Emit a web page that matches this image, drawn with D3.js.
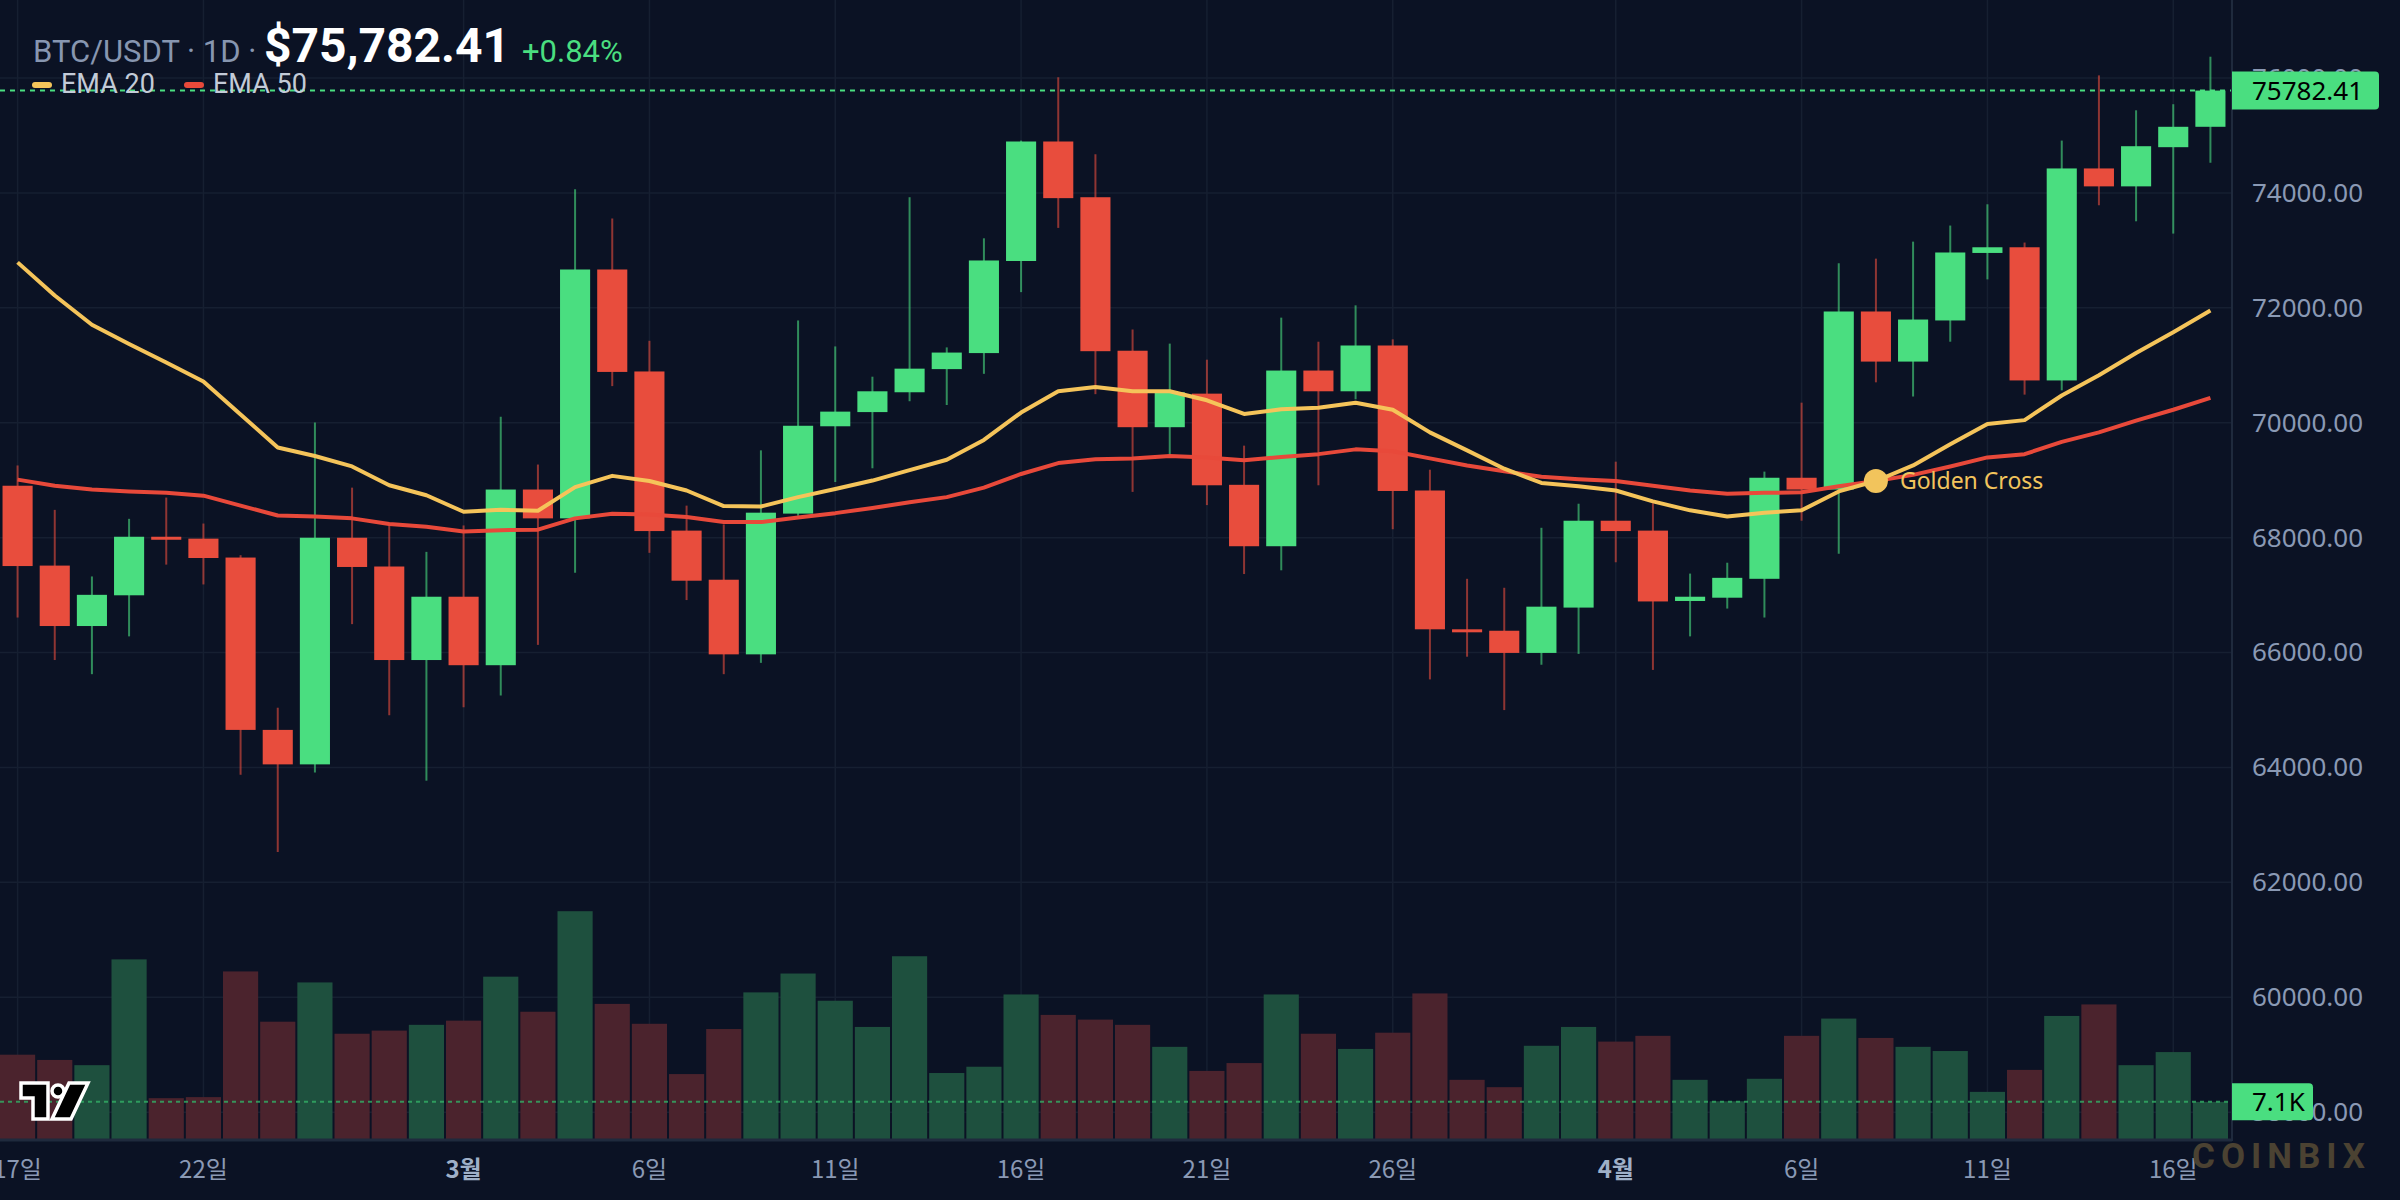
<!DOCTYPE html>
<html>
<head>
<meta charset="utf-8">
<script src="https://cdn.jsdelivr.net/npm/d3@7"></script>
<style>
  html, body { margin: 0; padding: 0; background: #0b1224; }
  svg { display: block; }
</style>
</head>
<body>
<svg id="chart"></svg>
<script>
const startDay = "2025-02-17";

const opens = [68904, 67514, 66462, 66997, 68016, 67983, 67654, 64654, 64054, 67999,
  67498, 65870, 66972, 65780, 68838, 68336, 72668, 70893, 68123, 67268,
  65969, 68419, 69939, 70186, 70531, 70934, 71213, 72816, 74896, 73926,
  71254, 69923, 70507, 68920, 67851, 70909, 70548, 71345, 68821, 66405,
  66380, 65994, 66783, 68295, 68123, 66898, 66955, 67284, 69043, 68838,
  71937, 71065, 71781, 72956, 73055, 70737, 74427, 74115, 74797, 75152];
const highs = [69257, 68484, 67325, 68328, 68698, 68246, 67695, 65040, 70005, 68871,
  68230, 67753, 68213, 70104, 69273, 74066, 73556, 71427, 68558, 68230,
  69520, 71781, 71329, 70802, 73926, 71312, 73211, 74912, 76014, 74674,
  71624, 71378, 71098, 69602, 71830, 71411, 72044, 71452, 69183, 67284,
  67128, 68172, 68591, 69323, 68600, 67375, 67564, 69150, 70350, 72775,
  72857, 73153, 73433, 73803, 73137, 74912, 76047, 75439, 75545, 76372];
const lows = [66610, 65870, 65624, 66282, 67531, 67186, 63873, 62529, 63914, 66495,
  64909, 63770, 65048, 65254, 66134, 67391, 70638, 67736, 66914, 65624,
  65821, 68380, 68969, 69208, 70375, 70309, 70852, 72274, 73392, 70498,
  68797, 69421, 68567, 67367, 67432, 68912, 70408, 68147, 65533, 65928,
  64999, 65788, 65977, 67572, 65698, 66282, 66766, 66610, 68295, 67720,
  70704, 70457, 71411, 72496, 70490, 70564, 73786, 73507, 73293, 74526];
const closes = [67506, 66462, 67005, 68016, 67975, 67646, 64654, 64054, 67999, 67490,
  65870, 66972, 65780, 68838, 68336, 72668, 70885, 68115, 67251, 65969,
  68435, 69948, 70194, 70548, 70942, 71222, 72825, 74896, 73910, 71246,
  69923, 70531, 68912, 67851, 70909, 70548, 71345, 68813, 66405, 66380,
  65994, 66799, 68295, 68115, 66890, 66972, 67301, 69043, 68838, 71937,
  71065, 71797, 72964, 73055, 70737, 74427, 74115, 74814, 75152, 75782.41];
// volume in thousands
const volumes = [16.1, 15.1, 14.1, 34.3, 7.8, 8.0, 32.0, 22.4, 29.9, 20.1,
  20.7, 21.8, 22.6, 31.0, 24.3, 43.5, 25.8, 22.0, 12.4, 21.0,
  28.0, 31.6, 26.4, 21.4, 34.9, 12.6, 13.8, 27.6, 23.7, 22.8,
  21.8, 17.6, 13.0, 14.5, 27.6, 20.1, 17.2, 20.3, 27.8, 11.3,
  9.9, 17.8, 21.4, 18.6, 19.7, 11.3, 7.2, 11.5, 19.7, 23.0,
  19.3, 17.6, 16.8, 9.0, 13.2, 23.5, 25.7, 14.1, 16.6, 7.1];
const ema20 = [72792, 72216, 71707, 71370, 71049, 70720, 70145, 69569, 69421, 69240,
  68912, 68739, 68452, 68484, 68468, 68879, 69076, 68986, 68821, 68550,
  68542, 68706, 68846, 68994, 69175, 69356, 69701, 70178, 70548, 70622,
  70548, 70548, 70391, 70153, 70235, 70260, 70350, 70227, 69833, 69520,
  69200, 68953, 68895, 68821, 68632, 68476, 68369, 68435, 68476, 68805,
  68986, 69257, 69627, 69980, 70046, 70474, 70827, 71213, 71575, 71953];
const ema50 = [69010, 68904, 68838, 68805, 68780, 68731, 68558, 68386, 68369, 68336,
  68238, 68189, 68106, 68131, 68139, 68336, 68418, 68402, 68361, 68271,
  68271, 68353, 68427, 68517, 68616, 68706, 68871, 69109, 69298, 69364,
  69380, 69421, 69397, 69347, 69405, 69454, 69537, 69504, 69380, 69257,
  69155, 69060, 69019, 68986, 68904, 68821, 68764, 68780, 68789, 68895,
  68986, 69093, 69240, 69397, 69454, 69668, 69833, 70038, 70227, 70433];

const tickDays = ["2025-02-17", "2025-02-22", "2025-03-01", "2025-03-06", "2025-03-11", "2025-03-16",
  "2025-03-21", "2025-03-26", "2025-04-01", "2025-04-06", "2025-04-11", "2025-04-16"];
const priceTicks = [58000, 60000, 62000, 64000, 66000, 68000, 70000, 72000, 74000, 76000];
const crossDay = "2025-04-08";

const W = 2400, H = 1200;
const plotRight = 2232, plotBottom = 1139;
const UP = "#4ade80", DOWN = "#e84d3d";
const VOL_UP = "#1e503e", VOL_DOWN = "#4b232d";
const GRID = "#161f31", AXIS_TEXT = "#8a99b4";

const t0 = new Date(startDay);
const days = d3.utcDay.range(t0, d3.utcDay.offset(t0, closes.length)).map(d => +d);
const data = days.map((d, i) => ({
  date: d, open: opens[i], high: highs[i], low: lows[i], close: closes[i],
  volume: volumes[i], e20: ema20[i], e50: ema50[i]
}));

const svg = d3.select('#chart').attr('width', W).attr('height', H);
svg.append('rect').attr('width', W).attr('height', H).attr('fill', '#0b1224');

const x = d3.scaleBand().domain(days).range([-1, 2229]).padding(0);
const step = x.step();
const cx = d => x(d) + step / 2;

const y = d3.scaleLinear().domain([57533, 77359]).range([plotBottom, 0]);
const yVol = d3.scaleLinear()
  .domain([0, d3.max(volumes)])
  .range([plotBottom, plotBottom - plotBottom * 0.2]);

// grid
const grid = svg.append('g');
grid.selectAll('line.h')
  .data(priceTicks)
  .enter().append('line')
  .attr('x1', 0).attr('x2', plotRight)
  .attr('y1', d => y(d)).attr('y2', d => y(d))
  .attr('stroke', GRID).attr('stroke-width', 1.5);
grid.selectAll('line.v')
  .data(tickDays.map(s => +new Date(s)))
  .enter().append('line')
  .attr('x1', d => cx(d)).attr('x2', d => cx(d))
  .attr('y1', 0).attr('y2', plotBottom)
  .attr('stroke', GRID).attr('stroke-width', 1.5);

// volume
svg.append('g').selectAll('rect')
  .data(data)
  .enter().append('rect')
  .attr('x', d => cx(d.date) - (step - 2) / 2)
  .attr('width', step - 2)
  .attr('y', d => yVol(d.volume))
  .attr('height', d => plotBottom - yVol(d.volume))
  .attr('fill', d => d.close >= d.open ? VOL_UP : VOL_DOWN);

const last = data[data.length - 1];
const prev = data[data.length - 2];

svg.append('line')
  .attr('x1', 0).attr('x2', plotRight)
  .attr('y1', yVol(last.volume)).attr('y2', yVol(last.volume))
  .attr('stroke', '#33b066').attr('stroke-width', 2)
  .attr('stroke-dasharray', '4,4').attr('opacity', 0.8);

// candles
const candles = svg.append('g').selectAll('g')
  .data(data)
  .enter().append('g');

candles.append('line')
  .attr('x1', d => cx(d.date)).attr('x2', d => cx(d.date))
  .attr('y1', d => y(d.high)).attr('y2', d => y(d.low))
  .attr('stroke', d => d.close >= d.open ? UP : DOWN)
  .attr('stroke-opacity', 0.6)
  .attr('stroke-width', 2);

const bodyW = step * 0.81;
candles.append('rect')
  .attr('x', d => cx(d.date) - bodyW / 2)
  .attr('width', bodyW)
  .attr('y', d => y(Math.max(d.open, d.close)))
  .attr('height', d => Math.max(3, Math.abs(y(d.open) - y(d.close))))
  .attr('fill', d => d.close >= d.open ? UP : DOWN);

// EMAs
const line = key => d3.line().x(d => cx(d.date)).y(d => y(d[key]));
svg.append('path').datum(data)
  .attr('d', line('e50'))
  .attr('fill', 'none').attr('stroke', '#e8493a').attr('stroke-width', 4)
  .attr('stroke-linejoin', 'round');
svg.append('path').datum(data)
  .attr('d', line('e20'))
  .attr('fill', 'none').attr('stroke', '#f5c45a').attr('stroke-width', 4)
  .attr('stroke-linejoin', 'round');

// price line
svg.append('line')
  .attr('x1', 0).attr('x2', plotRight)
  .attr('y1', y(last.close)).attr('y2', y(last.close))
  .attr('stroke', UP).attr('stroke-width', 2)
  .attr('stroke-dasharray', '5,5');

// golden cross
const cross = data.find(d => d.date === +new Date(crossDay));
svg.append('circle')
  .attr('cx', cx(cross.date)).attr('cy', y(cross.e50))
  .attr('r', 12).attr('fill', '#f2c45c');
svg.append('text')
  .attr('x', cx(cross.date) + 24).attr('y', y(cross.e50) + 8)
  .attr('fill', '#f2c45c')
  .style('font-family', '"Noto Sans", sans-serif')
  .style('font-size', '23px')
  .text('Golden Cross');

// frame
svg.append('line')
  .attr('x1', plotRight).attr('x2', plotRight).attr('y1', 0).attr('y2', plotBottom + 2)
  .attr('stroke', '#1f2a3d').attr('stroke-width', 2);
svg.append('line')
  .attr('x1', 0).attr('x2', plotRight).attr('y1', plotBottom + 1).attr('y2', plotBottom + 1)
  .attr('stroke', '#1f2a3d').attr('stroke-width', 3);

// price axis
svg.append('g')
  .attr('transform', `translate(${plotRight},0)`)
  .call(d3.axisRight(y).tickValues(priceTicks).tickFormat(d3.format('.2f')).tickSize(0).tickPadding(20))
  .call(g => g.select('.domain').remove())
  .selectAll('text')
  .attr('fill', AXIS_TEXT)
  .style('font-family', '"Noto Sans", sans-serif')
  .style('font-size', '26px');

// date axis
const fmtDay = d => {
  const dt = new Date(d);
  return dt.getUTCDate() === 1 ? (dt.getUTCMonth() + 1) + '월' : dt.getUTCDate() + '일';
};
svg.append('g')
  .attr('transform', `translate(0,${plotBottom})`)
  .call(d3.axisBottom(x).tickValues(tickDays.map(s => +new Date(s))).tickFormat(fmtDay).tickSize(0))
  .call(g => g.select('.domain').remove())
  .selectAll('text')
  .attr('y', 39).attr('dy', null)
  .attr('fill', d => new Date(d).getUTCDate() === 1 ? '#9fb0c8' : AXIS_TEXT)
  .style('font-weight', d => new Date(d).getUTCDate() === 1 ? 700 : 400)
  .style('font-family', '"Noto Sans CJK KR", sans-serif')
  .style('font-size', '24px');

// last value labels
const priceBox = svg.append('g').attr('transform', `translate(${plotRight},${y(last.close) - 19})`);
priceBox.append('path')
  .attr('d', 'M0,0 H143 Q147,0 147,4 V34 Q147,38 143,38 H0 Z')
  .attr('fill', UP);
priceBox.append('text')
  .attr('x', 20).attr('y', 28)
  .attr('fill', '#000')
  .style('font-family', '"Noto Sans", sans-serif')
  .style('font-size', '26px')
  .text(d3.format('.2f')(last.close));

const volBox = svg.append('g').attr('transform', `translate(${plotRight},${yVol(last.volume) - 18.5})`);
volBox.append('path')
  .attr('d', 'M0,0 H77 Q81,0 81,4 V33 Q81,37 77,37 H0 Z')
  .attr('fill', UP);
volBox.append('text')
  .attr('x', 20).attr('y', 27.5)
  .attr('fill', '#000')
  .style('font-family', '"Noto Sans", sans-serif')
  .style('font-size', '26px')
  .text(last.volume.toFixed(1) + 'K');

// header
const header = svg.append('text')
  .attr('x', 33).attr('y', 62)
  .style('font-family', 'Roboto, sans-serif');
header.append('tspan')
  .attr('fill', '#8796b0').style('font-size', '31px')
  .text('BTC/USDT · 1D · ');
header.append('tspan')
  .attr('fill', '#ffffff').style('font-size', '48px').style('font-weight', 700)
  .text(d3.format('$,.2f')(last.close) + ' ');
header.append('tspan')
  .attr('fill', UP).style('font-size', '31px')
  .text(d3.format('+.2%')((last.close - prev.close) / prev.close));

// legend
const legend = [
  { label: 'EMA 20', color: '#f5c45a', x: 32 },
  { label: 'EMA 50', color: '#e8493a', x: 184 }
];
const lg = svg.append('g').selectAll('g')
  .data(legend)
  .enter().append('g')
  .attr('transform', d => `translate(${d.x},0)`);
lg.append('rect')
  .attr('x', 0).attr('y', 82).attr('width', 20).attr('height', 6).attr('rx', 3)
  .attr('fill', d => d.color);
lg.append('text')
  .attr('x', 29).attr('y', 93)
  .attr('fill', '#c3cbd8')
  .style('font-family', 'Roboto, sans-serif')
  .style('font-size', '27px')
  .text(d => d.label);

// logo
const logo = svg.append('g')
  .attr('fill', '#000').attr('stroke', '#fff').attr('stroke-width', 3.5).attr('stroke-linejoin', 'miter');
logo.append('path').attr('d', 'M21,1083 H48 V1119 H33 V1098 H21 Z');
logo.append('circle').attr('cx', 58).attr('cy', 1091).attr('r', 6);
logo.append('path').attr('d', 'M69,1083 H88 L71,1119 H52 Z');

// watermark
svg.append('text')
  .attr('x', 2192).attr('y', 1168)
  .attr('fill', '#4b4232')
  .style('font-family', 'Roboto, sans-serif')
  .style('font-size', '35px')
  .style('font-weight', 700)
  .style('letter-spacing', '6px')
  .text('COINBIX');
</script>
</body>
</html>
